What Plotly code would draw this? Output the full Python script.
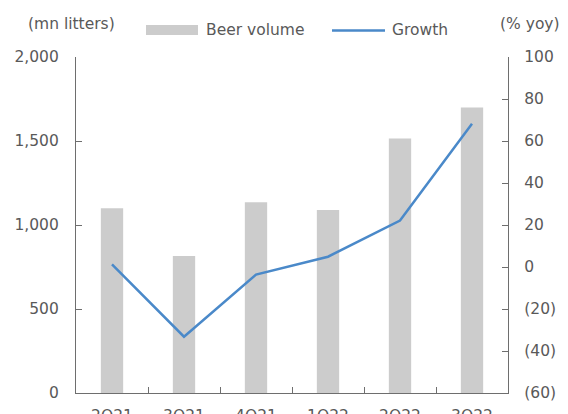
import plotly.graph_objects as go

# Quarterly beer volume (mn litters) and year-on-year growth (%)
quarters = ["2Q21", "3Q21", "4Q21", "1Q22", "2Q22", "3Q22"]
beer_volume = [1100, 815, 1135, 1090, 1515, 1700]
growth_yoy = [1.2, -33.2, -3.6, 4.9, 22.1, 68.2]

left_ticks = [0, 500, 1000, 1500, 2000]
right_ticks = [-60, -40, -20, 0, 20, 40, 60, 80, 100]
right_labels = ["(60)", "(40)", "(20)", "0", "20", "40", "60", "80", "100"]

W, H = 568, 414
M_L, M_R, M_T, M_B = 76, 60, 57, 21
PLOT_W = W - M_L - M_R
PLOT_H = H - M_T - M_B

TEXT = "#595959"
AXIS = "#6e6e6e"
BAR = "#cccccc"
LINE = "#4a89c9"
FONT = "DejaVu Sans"


def px(x):
    return (x - M_L) / PLOT_W


def py(y):
    return (H - M_B - y) / PLOT_H


fig = go.Figure()
fig.add_trace(go.Bar(x=quarters, y=beer_volume, name="Beer volume",
                     marker=dict(color=BAR, line=dict(width=0)),
                     width=0.31, yaxis="y"))
fig.add_trace(go.Scatter(x=quarters, y=growth_yoy, name="Growth",
                         mode="lines", line=dict(color=LINE, width=2.5),
                         yaxis="y2"))

axis_common = dict(showgrid=False, zeroline=False, showline=True,
                   linecolor=AXIS, linewidth=1.3, ticks="inside",
                   ticklen=6, tickcolor=AXIS, tickwidth=1.3,
                   automargin=False,
                   tickfont=dict(family=FONT, size=15.5, color=TEXT))

fig.update_layout(
    width=W, height=H,
    margin=dict(l=M_L, r=M_R, t=M_T, b=M_B, pad=0),
    paper_bgcolor="white", plot_bgcolor="white",
    showlegend=False,
    bargap=0.69,
    xaxis=dict(**axis_common, type="category", tickson="boundaries",
               ticklabelstandoff=8, range=[-0.5, 5.5]),
    yaxis=dict(**axis_common, range=[0, 2000], tickvals=left_ticks,
               tickformat=",", ticklabelstandoff=13),
    yaxis2=dict(**axis_common, overlaying="y", side="right",
                range=[-60, 100], tickvals=right_ticks,
                ticktext=right_labels, ticklabelstandoff=12),
)

# Legend drawn by hand: wide bar swatch and line swatch
fig.add_shape(type="rect", xref="paper", yref="paper",
              x0=px(146), x1=px(198), y0=py(35), y1=py(25),
              fillcolor=BAR, line=dict(width=0))
fig.add_shape(type="line", xref="paper", yref="paper",
              x0=px(332), x1=px(385), y0=py(30.5), y1=py(30.5),
              line=dict(color=LINE, width=2.5))

labels = [
    ("Beer volume", 204, 30.5, "left"),
    ("Growth", 390, 30.5, "left"),
    ("(mn litters)", 71, 24, "center"),
    ("(% yoy)", 530, 24, "center"),
]
for text, x, y, anchor in labels:
    fig.add_annotation(text=text, xref="paper", yref="paper",
                       x=px(x), y=py(y), xanchor=anchor, yanchor="middle",
                       showarrow=False,
                       font=dict(family=FONT, size=15.5, color=TEXT))

fig.write_html("out.html")
